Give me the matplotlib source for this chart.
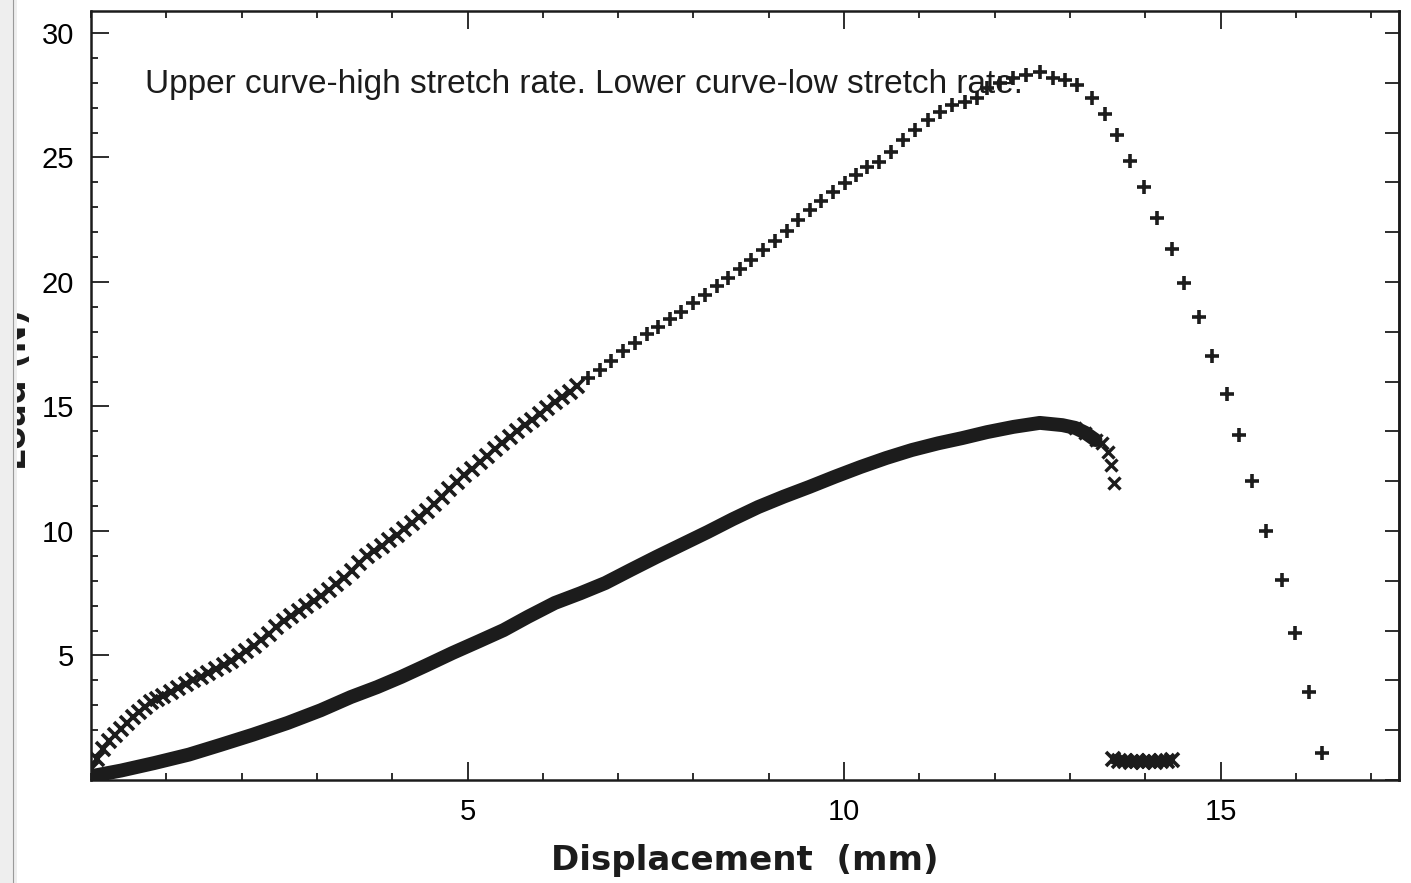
import matplotlib.pyplot as plt
from matplotlib.ticker import MultipleLocator
from matplotlib.patches import Rectangle

# =========================
# Data
# =========================
# upper curve (high stretch rate), dense early part
upper_x_dense = [0.00, 0.08, 0.16, 0.24, 0.32, 0.40, 0.48, 0.56, 0.64, 0.72, 0.80, 0.88, 0.96,
                 1.06, 1.16, 1.26, 1.36, 1.46, 1.56, 1.66, 1.76, 1.86, 1.96, 2.06, 2.16, 2.26,
                 2.36, 2.46, 2.56, 2.66, 2.76, 2.86, 2.96, 3.06, 3.16, 3.26, 3.36, 3.46, 3.56,
                 3.66, 3.76, 3.86, 3.96, 4.06, 4.16, 4.26, 4.36, 4.46, 4.56, 4.66, 4.76, 4.86,
                 4.96, 5.06, 5.16, 5.26, 5.36, 5.46, 5.56, 5.66, 5.76, 5.86, 5.96, 6.06, 6.16,
                 6.26, 6.36, 6.46]
upper_y_dense = [0.45, 0.85, 1.25, 1.55, 1.80, 2.05, 2.29, 2.52, 2.75, 2.95, 3.12, 3.26, 3.38,
                 3.52, 3.70, 3.87, 4.00, 4.15, 4.30, 4.45, 4.60, 4.78, 4.99, 5.19, 5.40, 5.63,
                 5.88, 6.13, 6.38, 6.60, 6.80, 6.98, 7.17, 7.38, 7.62, 7.87, 8.12, 8.40, 8.70,
                 8.98, 9.20, 9.40, 9.62, 9.84, 10.08, 10.33, 10.58, 10.82, 11.10, 11.38, 11.68, 11.97,
                 12.25, 12.50, 12.75, 13.02, 13.30, 13.55, 13.78, 14.01, 14.24, 14.47, 14.70, 14.93, 15.16,
                 15.38, 15.60, 15.82]

# upper curve, later part and the drop after the peak
upper_x = [6.60, 6.76, 6.91, 7.07, 7.22, 7.38, 7.53, 7.69, 7.84, 8.00, 8.15, 8.31, 8.46, 8.62,
           8.77, 8.93, 9.08, 9.24, 9.39, 9.55, 9.70, 9.86, 10.01, 10.16, 10.31, 10.47, 10.63,
           10.78, 10.94, 11.11, 11.27, 11.43, 11.60, 11.76, 11.90, 12.07, 12.24, 12.42, 12.60,
           12.77, 12.93, 13.10, 13.29, 13.46, 13.63, 13.80, 13.98, 14.15, 14.35, 14.52, 14.71,
           14.89, 15.08, 15.25, 15.42, 15.61, 15.81, 15.99, 16.17, 16.35]
upper_y = [16.13, 16.48, 16.82, 17.22, 17.56, 17.92, 18.20, 18.50, 18.80, 19.15, 19.47, 19.83,
           20.16, 20.53, 20.90, 21.28, 21.64, 22.05, 22.48, 22.90, 23.27, 23.63, 23.97, 24.30,
           24.60, 24.82, 25.22, 25.70, 26.10, 26.51, 26.83, 27.11, 27.23, 27.39, 27.79, 27.99,
           28.19, 28.31, 28.43, 28.19, 28.11, 27.91, 27.39, 26.75, 25.90, 24.86, 23.82, 22.57,
           21.33, 19.96, 18.59, 17.03, 15.50, 13.86, 12.01, 10.00, 8.03, 5.90, 3.53, 1.08]

# lower curve (low stretch rate)
lower_x = [0.00, 0.40, 0.84, 1.30, 1.72, 2.15, 2.61, 3.05, 3.45, 3.80, 4.12, 4.45, 4.80, 5.15,
           5.48, 5.80, 6.16, 6.50, 6.83, 7.17, 7.51, 7.85, 8.19, 8.52, 8.86, 9.20, 9.54, 9.88,
           10.22, 10.56, 10.90, 11.25, 11.57, 11.90, 12.25, 12.60, 12.90, 13.07, 13.20, 13.34,
           13.43, 13.50, 13.55, 13.59]
lower_y = [0.15, 0.38, 0.68, 1.02, 1.41, 1.82, 2.29, 2.80, 3.33, 3.73, 4.14, 4.60, 5.10, 5.57,
           6.02, 6.55, 7.11, 7.50, 7.91, 8.44, 8.96, 9.46, 9.96, 10.47, 10.96, 11.38, 11.77, 12.18,
           12.57, 12.93, 13.25, 13.52, 13.73, 13.97, 14.18, 14.34, 14.25, 14.14, 13.95, 13.65,
           13.53, 13.17, 12.65, 11.93]

# lower curve after failure
tail_x = [13.57, 13.65, 13.73, 13.81, 13.89, 13.97, 14.05, 14.13, 14.21, 14.29, 14.36]
tail_y = [0.85, 0.75, 0.78, 0.74, 0.77, 0.73, 0.76, 0.74, 0.77, 0.75, 0.80]

note = "Upper curve-high stretch rate. Lower curve-low stretch rate."

# =========================
# Figure
# =========================
W, H = 1411, 883
fig = plt.figure(figsize=(W / 100, H / 100), dpi=100)
ax = fig.add_axes([91 / W, 1 - 780 / H, (1399 - 91) / W, (780 - 11) / H])

ink = "#1c1c1c"
ax.plot(upper_x_dense, upper_y_dense, ls="none", marker="x", ms=9.5, mew=2.6, color=ink)
ax.plot(upper_x, upper_y, ls="none", marker="+", ms=10, mew=2.6, color=ink)
ax.plot(lower_x[:-4], lower_y[:-4], color=ink, lw=10, solid_capstyle="round",
        solid_joinstyle="round")
ax.plot(lower_x[-7:], lower_y[-7:], ls="none", marker="x", ms=9, mew=2.4, color=ink)
ax.plot(tail_x, tail_y, color=ink, lw=7.5, solid_capstyle="butt")
ax.plot(tail_x, tail_y, ls="none", marker="x", ms=9.5, mew=2.6, color=ink)

ax.set_xlim(0, 17.37)
ax.set_ylim(0, 30.88)

tick_font = dict(family="Liberation Sans", size=21)
ax.xaxis.set_minor_locator(MultipleLocator(1))
ax.yaxis.set_minor_locator(MultipleLocator(1))
ax.set_xticks([5, 10, 15])
ax.set_yticks([5, 10, 15, 20, 25, 30])
ax.set_xticklabels(["5", "10", "15"], fontdict=tick_font)
ax.set_yticklabels(["5", "10", "15", "20", "25", "30"], fontdict=tick_font)
ax.tick_params(which="both", direction="in", top=True, right=False, width=1.3, color=ink)
ax.tick_params(which="major", length=13)
ax.tick_params(which="minor", length=5)
ax.tick_params(axis="x", pad=13)
ax.tick_params(axis="y", pad=12)

right = ax.secondary_yaxis("right")
right.yaxis.set_major_locator(MultipleLocator(2))
right.tick_params(direction="in", length=10, width=1.3, color=ink, labelright=False)

for s in list(ax.spines.values()) + [right.spines["right"]]:
    s.set_linewidth(1.8)
    s.set_color(ink)

ax.set_xlabel("Displacement  (mm)", fontsize=24.5, fontweight="bold", family="DejaVu Sans",
              labelpad=13, color=ink)

ax.text(145 / W, 1 - 85 / H, note, transform=fig.transFigure, fontsize=24,
        family="Liberation Sans", va="center", ha="left", color=ink)

# y label, mostly cut off at the page edge in the scan
fig.text(33 / W, 1 - 390 / H, "Load (N)", rotation=90, fontsize=24, fontweight="bold",
         ha="right", va="center", color=ink)
fig.patches.append(Rectangle((0, 0), 17 / W, 1, transform=fig.transFigure,
                             facecolor="#eeeeee", edgecolor="none", zorder=5))
fig.lines.append(plt.Line2D([13 / W, 13 / W], [0, 1], transform=fig.transFigure,
                            color="#9a9a9a", lw=0.8, zorder=6))

fig.savefig("out.png", dpi=100)
